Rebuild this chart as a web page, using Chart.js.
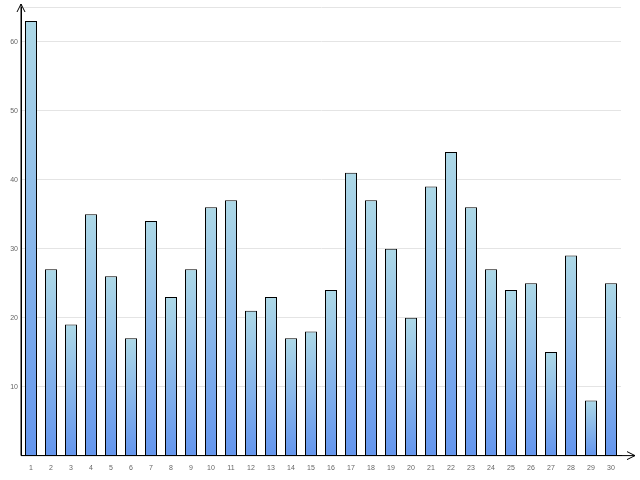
<!DOCTYPE html>
<html>
<head>
<script src="https://cdn.jsdelivr.net/npm/chart.js@4"></script>
<style>body{margin:0;background:#fff}#wrap{width:640px;height:480px}</style>
</head>
<body>
<div id="wrap"><canvas id="c"></canvas></div>
<script>
const labels = ['1','2','3','4','5','6','7','8','9','10','11','12','13','14','15','16','17','18','19','20','21','22','23','24','25','26','27','28','29','30'];
const values = [63,27,19,35,26,17,34,23,27,36,37,21,23,17,18,24,41,37,30,20,39,44,36,27,24,25,15,29,8,25];

function barFill(context) {
    const chart = context.chart;
    const area = chart.chartArea;
    if (!area) return '#8fb8ea';
    const y = chart.scales.y;
    const v = values[context.dataIndex];
    const g = chart.ctx.createLinearGradient(0, y.getPixelForValue(v), 0, y.getPixelForValue(0));
    g.addColorStop(0, '#add8e6');
    g.addColorStop(1, '#6495ed');
    return g;
}

const arrows = {
    id: 'arrows',
    afterDraw(chart) {
        const ctx = chart.ctx;
        const a = chart.chartArea;
        ctx.save();
        ctx.strokeStyle = '#000';
        ctx.lineWidth = 1;
        ctx.beginPath();
        ctx.moveTo(a.left, a.bottom); ctx.lineTo(635, a.bottom);
        ctx.moveTo(a.left, a.bottom); ctx.lineTo(a.left, 4);
        ctx.moveTo(627, a.bottom - 4); ctx.lineTo(635, a.bottom); ctx.lineTo(627, a.bottom + 4);
        ctx.moveTo(a.left - 4, 12); ctx.lineTo(a.left, 4); ctx.lineTo(a.left + 4, 12);
        ctx.stroke();
        ctx.restore();
    }
};

new Chart(document.getElementById('c'), {
    type: 'bar',
    data: {
        labels: labels,
        datasets: [{
            data: values,
            backgroundColor: barFill,
            borderColor: '#000',
            borderWidth: 1,
            categoryPercentage: 1,
            barPercentage: 0.6
        }]
    },
    options: {
        responsive: true,
        maintainAspectRatio: false,
        animation: false,
        layout: { padding: { top: 5, right: 19, left: 0, bottom: 8 } },
        plugins: { legend: { display: false }, tooltip: { enabled: false } },
        scales: {
            x: {
                grid: { display: false },
                border: { color: '#000' },
                ticks: { color: '#666', font: { size: 7 }, padding: 0, maxRotation: 0 }
            },
            y: {
                min: 0, max: 65,
                afterFit(s) { s.width = 21; },
                grid: { color: '#e4e4e4', drawTicks: false },
                border: { color: '#000' },
                ticks: {
                    stepSize: 10, color: '#666', font: { size: 7 }, padding: 3,
                    callback: v => (v === 0 || v % 10 !== 0) ? '' : v
                }
            }
        }
    },
    plugins: [arrows]
});
</script>
</body>
</html>
